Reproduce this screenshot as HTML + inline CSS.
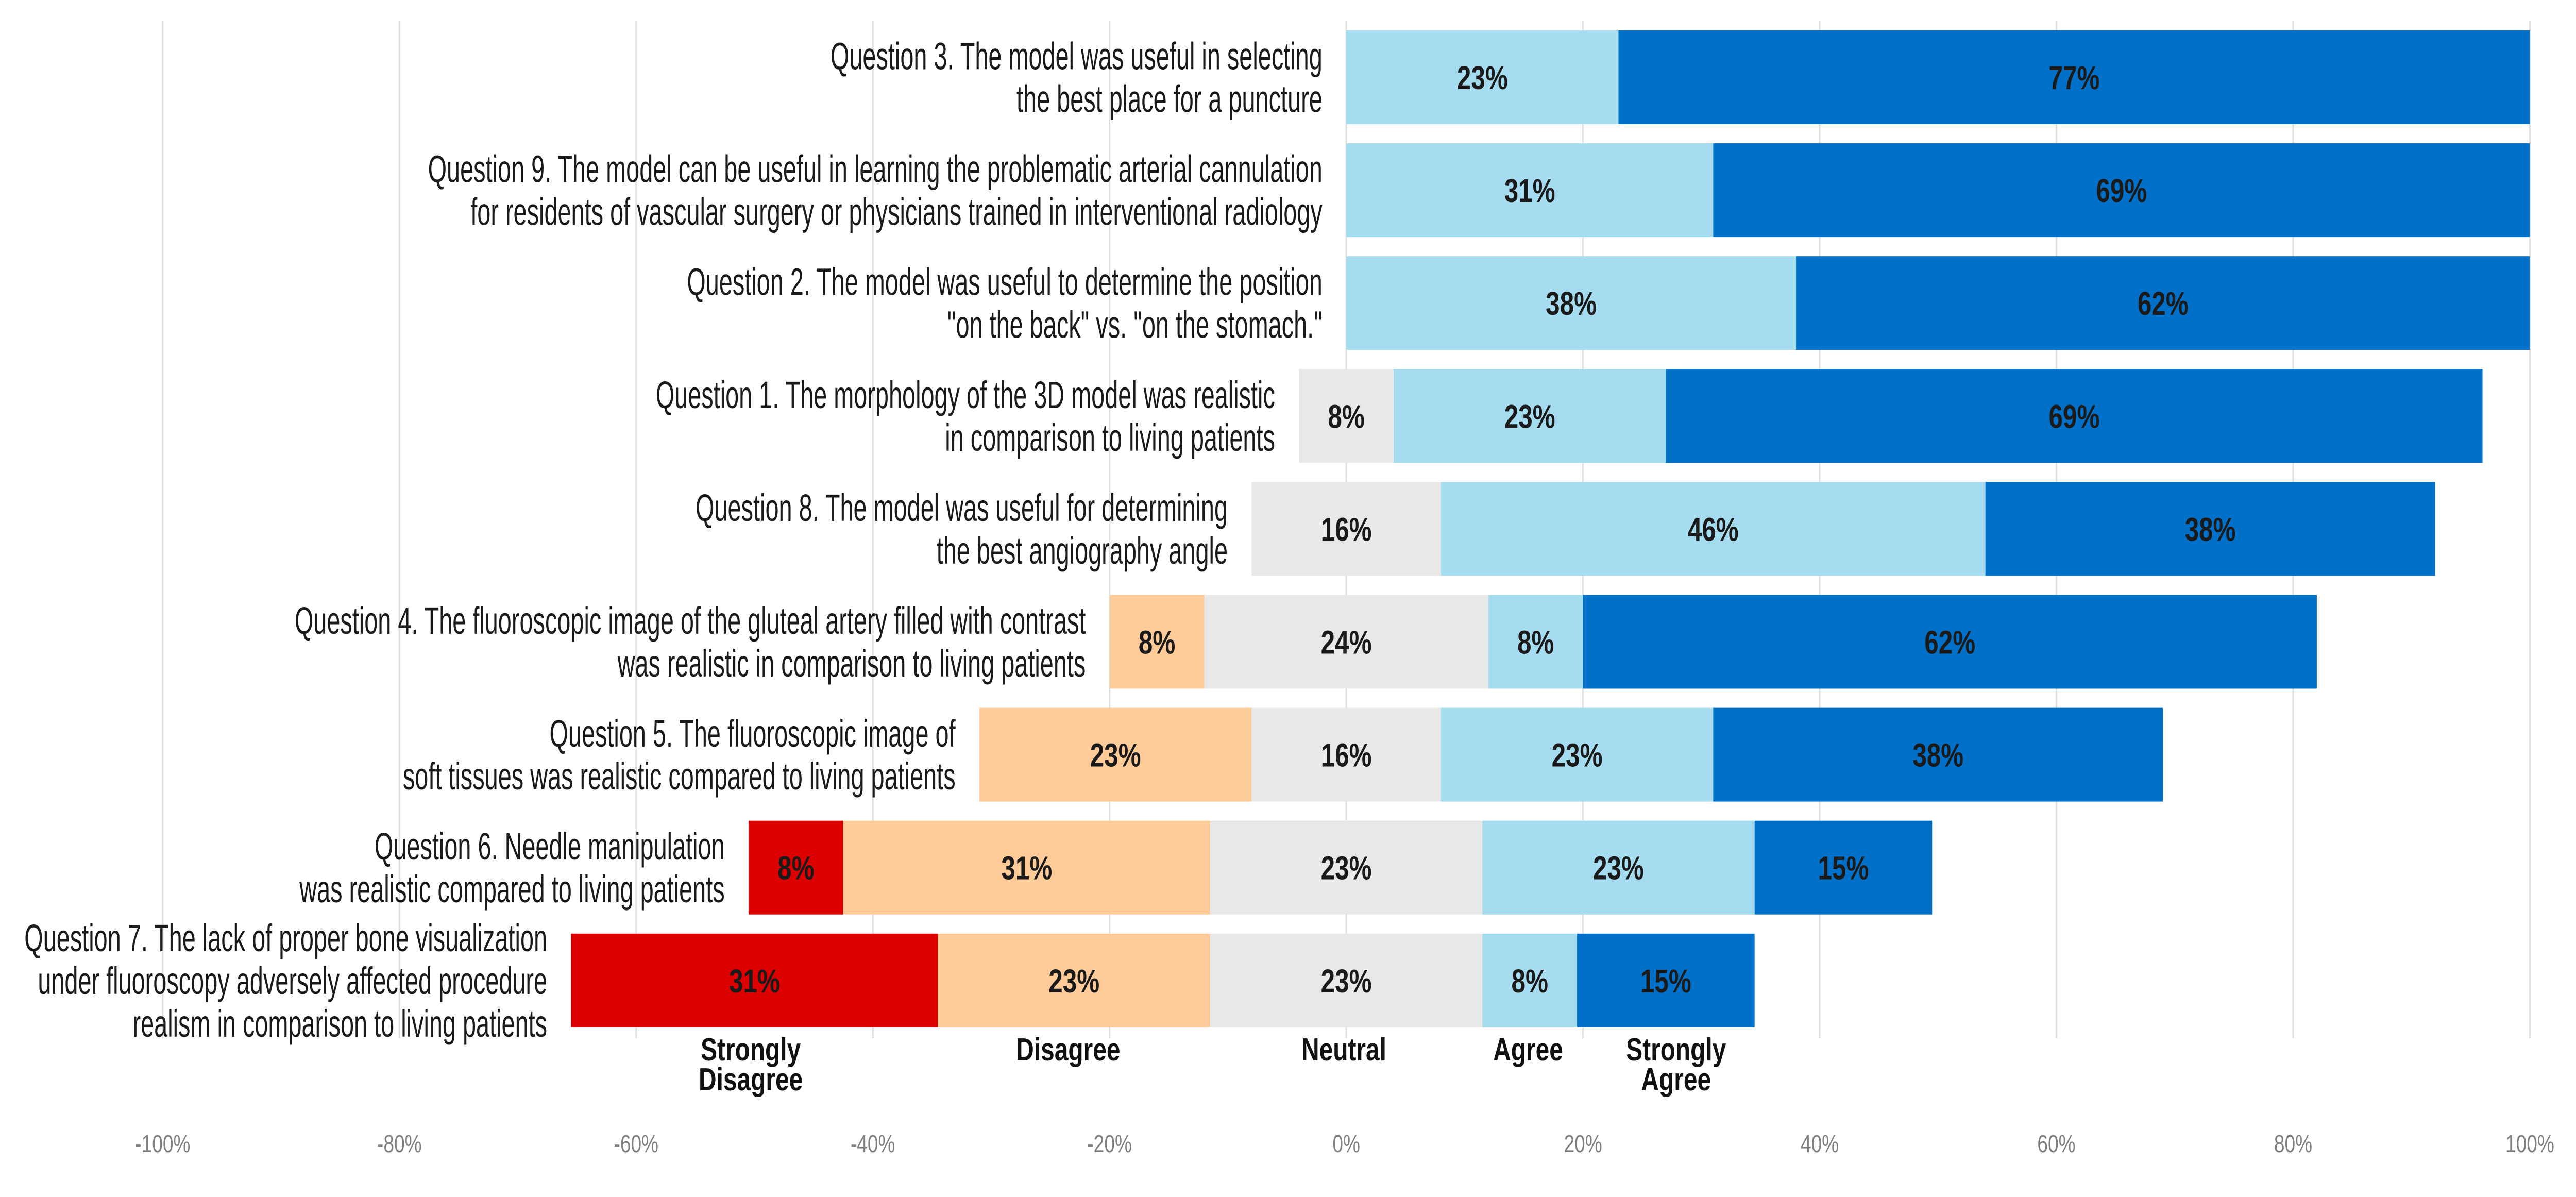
<!DOCTYPE html>
<html><head><meta charset="utf-8"><style>
html,body{margin:0;padding:0;background:#fff;width:100vw;height:100vh;overflow:hidden;}
svg{display:block;overflow:hidden;width:100vw;height:100vh;}
.q{font-family:"Liberation Sans Narrow","Liberation Sans",sans-serif;font-size:74px;fill:#1a1a1a;}
.v{font-family:"Liberation Sans Narrow","Liberation Sans",sans-serif;font-size:64px;font-weight:bold;fill:#1a1a1a;}
.t{font-family:"Liberation Sans Narrow","Liberation Sans",sans-serif;font-size:48px;fill:#808080;}
.c{font-family:"Liberation Sans Narrow","Liberation Sans",sans-serif;font-size:62px;font-weight:bold;fill:#111;}
</style></head><body>
<svg id="chart" viewBox="0 0 6475 2323" preserveAspectRatio="none" xmlns="http://www.w3.org/2000/svg">
<g id="grid"></g>
<g id="bars"></g>
<g id="qlabels"></g>
<g id="ticks"></g>
<g>
<text class="c" x="1887" y="2058" text-anchor="middle"><tspan x="1887">Strongly</tspan><tspan x="1887" dy="58">Disagree</tspan></text>
<text class="c" x="2685" y="2058" text-anchor="middle">Disagree</text>
<text class="c" x="3378" y="2058" text-anchor="middle">Neutral</text>
<text class="c" x="3841" y="2058" text-anchor="middle">Agree</text>
<text class="c" x="4213" y="2058" text-anchor="middle"><tspan x="4213">Strongly</tspan><tspan x="4213" dy="58">Agree</tspan></text>
</g>
</svg>
<script>
const questions = [
 ["Question 3. The model was useful in selecting","the best place for a puncture"],
 ["Question 9. The model can be useful in learning the problematic arterial cannulation","for residents of vascular surgery or physicians trained in interventional radiology"],
 ["Question 2. The model was useful to determine the position","\"on the back\" vs. \"on the stomach.\""],
 ["Question 1. The morphology of the 3D model was realistic","in comparison to living patients"],
 ["Question 8. The model was useful for determining","the best angiography angle"],
 ["Question 4. The fluoroscopic image of the gluteal artery filled with contrast","was realistic in comparison to living patients"],
 ["Question 5. The fluoroscopic image of","soft tissues was realistic compared to living patients"],
 ["Question 6. Needle manipulation","was realistic compared to living patients"],
 ["Question 7. The lack of proper bone visualization","under fluoroscopy adversely affected procedure","realism in comparison to living patients"]
];
const stronglyDisagree = [0,0,0,0,0,0,0,8,31];
const disagree        = [0,0,0,0,0,8,23,31,23];
const neutral         = [0,0,0,8,16,24,16,23,23];
const agree           = [23,31,38,23,46,8,23,23,8];
const stronglyAgree   = [77,69,62,69,38,62,38,15,15];
const tickValues = [-100,-80,-60,-40,-20,0,20,40,60,80,100];
const tickLabels = ["-100%","-80%","-60%","-40%","-20%","0%","20%","40%","60%","80%","100%"];

const NS="http://www.w3.org/2000/svg";
const x0=3384, perPct=29.75, rowTop=59, rowPitch=219.1, barH=182;
const xs=v=>x0+v*perPct;
const yRow=i=>rowTop+i*rowPitch;
const colors=["#DD0000","#FFCC99","#E8E8E8","#A6DCF0","#0070C8"];
const segNames=["strongly-disagree","disagree","neutral","agree","strongly-agree"];
function mk(tag,attrs,parent){const e=document.createElementNS(NS,tag);for(const k in attrs)e.setAttribute(k,attrs[k]);parent.appendChild(e);return e;}

const grid=document.getElementById('grid'), ticks=document.getElementById('ticks');
tickValues.forEach((v,i)=>{
  const l=mk('line',{x1:xs(v),x2:xs(v),y1:40,y2:2015,stroke:'#e0e0e0','stroke-width':4},grid);
  
  
  const t=mk('text',{x:xs(v),y:2236,'text-anchor':'middle',class:'t'},ticks);
  t.textContent=tickLabels[i];
  
  
});

const bars=document.getElementById('bars'), ql=document.getElementById('qlabels');
questions.forEach((q,i)=>{
  const vals=[stronglyDisagree[i],disagree[i],neutral[i],agree[i],stronglyAgree[i]];
  let start=-(vals[0]+vals[1]+vals[2]/2);
  const y=yRow(i);
  const barStart=xs(start);
  vals.forEach((v,k)=>{
    if(v>0){
      const r=mk('rect',{x:xs(start),y:y,width:v*perPct,height:barH,fill:colors[k]},bars);
      
      
      const t=mk('text',{x:xs(start+v/2),y:y+barH/2+23,'text-anchor':'middle',class:'v'},bars);
      t.textContent=v+'%';
      
      
    }
    start+=v;
  });
  const n=q.length, lh=83;
  const cy=y+barH/2;
  const rx=barStart-60;
  const g=mk('g',{transform:`translate(${rx},0) scale(0.82,1)`},ql);
  
  
  q.forEach((line,j)=>{
    const t=mk('text',{x:0,y:cy-(n-1)*lh/2+j*lh+26,'text-anchor':'end',class:'q'},g);
    t.textContent=line;
  });
});
</script>
</body></html>
